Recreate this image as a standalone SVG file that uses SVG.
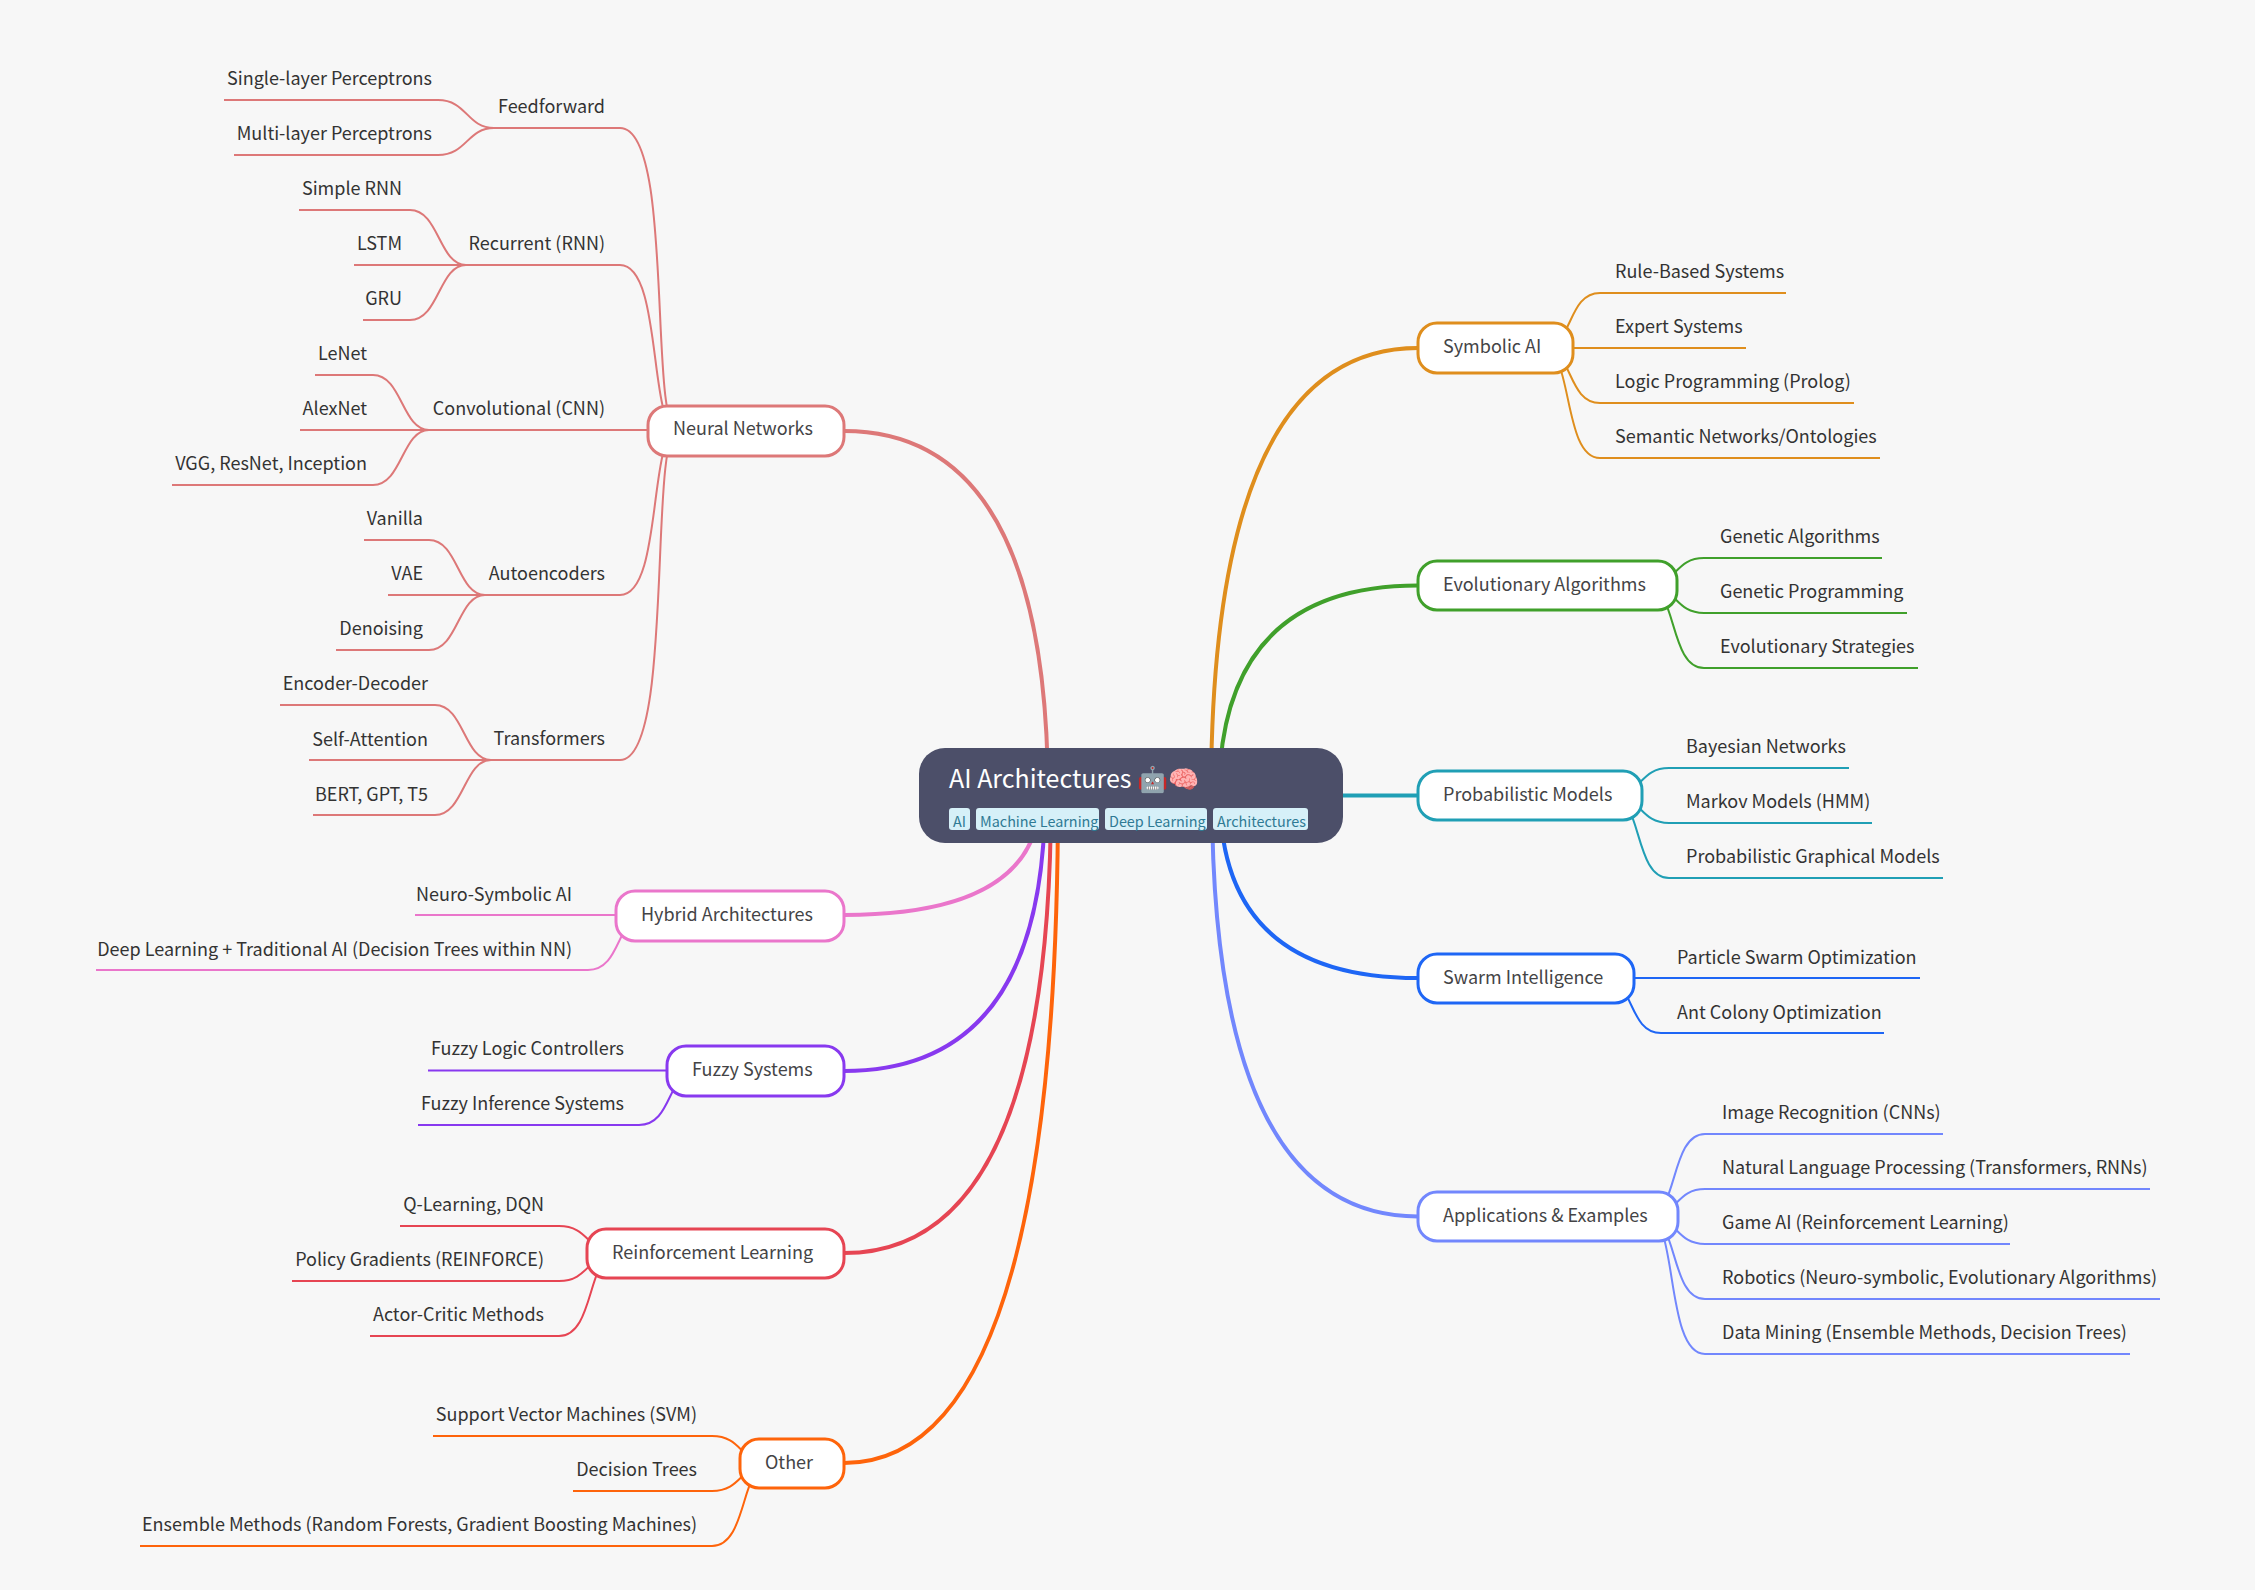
<svg xmlns="http://www.w3.org/2000/svg" width="2255" height="1590" viewBox="0 0 2255 1590">
<style>
text{font-family:"Noto Sans CJK SC","Noto Sans",sans-serif;}
.main{fill:none;stroke-width:4}
.sub{fill:none;stroke-width:2}
.c1{stroke:#dd7878}.c2{stroke:#ea76cb}.c3{stroke:#8839ef}.c4{stroke:#e64553}.c5{stroke:#fe640b}.c6{stroke:#df8e1d}.c7{stroke:#40a02b}.c8{stroke:#209fb5}.c9{stroke:#1e66f5}.c10{stroke:#7287fd}
.box{fill:#fff;stroke-width:3}
.t1{font-size:18px;fill:#444446;transform:translateY(1.4px)}
.t2{font-size:18px;fill:#333;transform:translateY(1.4px)}
.e{text-anchor:end}
.tag{fill:#d6f0f8}
.tagt{font-size:14.4px;fill:#2f7a94;transform:translateY(.7px)}
</style>
<rect width="2255" height="1590" fill="#f7f7f7"/>
<g id="connectors">
<path class="main c1" d="M1048 795.5Q1048 431 844 431"/>
<path class="main c2" d="M1040 795.5Q1040 915 844 915"/>
<path class="main c3" d="M1045 795.5Q1045 1071 844 1071"/>
<path class="main c4" d="M1051 795.5Q1051 1253 844 1253"/>
<path class="main c5" d="M1058 795.5Q1058 1463 844 1463"/>
<path class="main c6" d="M1211 795.5Q1211 348 1418 348"/>
<path class="main c7" d="M1219 795.5Q1219 585.5 1418 585.5"/>
<path class="main c8" d="M1131 795.5H1418"/>
<path class="main c9" d="M1220 795.5Q1220 978 1418 978"/>
<path class="main c10" d="M1212 795.5Q1212 1216.5 1418 1216.5"/>
<g class="c1">
<path class="sub c1" d="M678 430.5C648 430.5 675 128 620 128H494"/>
<path class="sub c1" d="M678 430.5C648 430.5 663 265 620 265H466"/>
<path class="sub c1" d="M678 430H429"/>
<path class="sub c1" d="M678 430.5C648 430.5 663 595 620 595H485"/>
<path class="sub c1" d="M678 430.5C648 430.5 675 760 620 760H491"/>
<path class="sub c1" d="M494 128C467 128 467 100 438 100H224"/>
<path class="sub c1" d="M494 128C467 128 467 155 438 155H234"/>
<path class="sub c1" d="M466 265C439 265 439 210 410 210H299"/>
<path class="sub c1" d="M466 265H354"/>
<path class="sub c1" d="M466 265C439 265 439 320 410 320H363"/>
<path class="sub c1" d="M429 430C402 430 402 375 373 375H315"/>
<path class="sub c1" d="M429 430H300"/>
<path class="sub c1" d="M429 430C402 430 402 485 373 485H172"/>
<path class="sub c1" d="M485 595C458 595 458 540 429 540H364"/>
<path class="sub c1" d="M485 595H388"/>
<path class="sub c1" d="M485 595C458 595 458 650 429 650H336"/>
<path class="sub c1" d="M491 760C464 760 464 705 435 705H280"/>
<path class="sub c1" d="M491 760H309"/>
<path class="sub c1" d="M491 760C464 760 464 815 435 815H313"/>
</g>
<path class="sub c2" d="M646 915H415"/>
<path class="sub c2" d="M646 915C616 915 622 970 588 970H96"/>
<path class="sub c3" d="M697 1070.5H428"/>
<path class="sub c3" d="M697 1070.5C667 1070.5 673 1125 639 1125H418"/>
<path class="sub c4" d="M617 1253C587 1253 590 1226 559 1226H400"/>
<path class="sub c4" d="M617 1253C587 1253 590 1281 559 1281H292"/>
<path class="sub c4" d="M617 1253C587 1253 595 1336 559 1336H370"/>
<path class="sub c5" d="M770 1463.5C740 1463.5 743 1436 712 1436H433"/>
<path class="sub c5" d="M770 1463.5C740 1463.5 743 1491 712 1491H573"/>
<path class="sub c5" d="M770 1463.5C740 1463.5 748 1546 712 1546H140"/>
<path class="sub c6" d="M1543 348C1573 348 1567 293 1600 293H1786"/>
<path class="sub c6" d="M1543 348H1746"/>
<path class="sub c6" d="M1543 348C1573 348 1567 403 1600 403H1854"/>
<path class="sub c6" d="M1543 348C1573 348 1562.500 458 1600 458H1880"/>
<path class="sub c7" d="M1647 585.5C1677 585.5 1674 558 1704 558H1882"/>
<path class="sub c7" d="M1647 585.5C1677 585.5 1674 613 1704 613H1907"/>
<path class="sub c7" d="M1647 585.5C1677 585.5 1669 668 1704 668H1918"/>
<path class="sub c8" d="M1612 795.5C1642 795.5 1639 768 1669 768H1849"/>
<path class="sub c8" d="M1612 795.5C1642 795.5 1639 823 1669 823H1872"/>
<path class="sub c8" d="M1612 795.5C1642 795.5 1634 878 1669 878H1943"/>
<path class="sub c9" d="M1604 978H1920"/>
<path class="sub c9" d="M1604 978C1634 978 1628 1033 1661 1033H1884"/>
<path class="sub c10" d="M1648 1216.5C1678 1216.5 1670 1134 1705 1134H1943"/>
<path class="sub c10" d="M1648 1216.5C1678 1216.5 1675 1189 1705 1189H2150"/>
<path class="sub c10" d="M1648 1216.5C1678 1216.5 1675 1244 1705 1244H2010"/>
<path class="sub c10" d="M1648 1216.5C1678 1216.5 1670 1299 1705 1299H2160"/>
<path class="sub c10" d="M1648 1216.5C1678 1216.5 1665 1354 1705 1354H2130"/>
</g>
<g id="root">
<rect x="919" y="748" width="424" height="95" rx="26" fill="#4c4f69"/>
<text x="949" y="788" font-size="25" fill="#fff">AI Architectures 🤖🧠</text>
<rect class="tag" x="949" y="808" width="21" height="22" rx="3"/>
<text class="tagt" x="953" y="826">AI</text>
<rect class="tag" x="976" y="808" width="123" height="22" rx="3"/>
<text class="tagt" x="980" y="826">Machine Learning</text>
<rect class="tag" x="1105" y="808" width="102" height="22" rx="3"/>
<text class="tagt" x="1109" y="826">Deep Learning</text>
<rect class="tag" x="1213" y="808" width="95" height="22" rx="3"/>
<text class="tagt" x="1217" y="826">Architectures</text>
</g>
<g id="n-neural"><rect class="box c1" x="648" y="406" width="196" height="50" rx="19"/><text class="t1" x="673" y="434">Neural Networks</text></g>
<g id="n-hybrid"><rect class="box c2" x="616" y="891" width="228" height="50" rx="19"/><text class="t1" x="641" y="920">Hybrid Architectures</text></g>
<g id="n-fuzzy"><rect class="box c3" x="667" y="1046" width="177" height="50" rx="19"/><text class="t1" x="692" y="1075">Fuzzy Systems</text></g>
<g id="n-rl"><rect class="box c4" x="587" y="1229" width="257" height="49" rx="19"/><text class="t1" x="612" y="1258">Reinforcement Learning</text></g>
<g id="n-other"><rect class="box c5" x="740" y="1439" width="104" height="49" rx="19"/><text class="t1" x="765" y="1468">Other</text></g>
<g id="n-symbolic"><rect class="box c6" x="1418" y="323" width="155" height="50" rx="19"/><text class="t1" x="1443" y="352">Symbolic AI</text></g>
<g id="n-evo"><rect class="box c7" x="1418" y="561" width="259" height="49" rx="19"/><text class="t1" x="1443" y="590">Evolutionary Algorithms</text></g>
<g id="n-prob"><rect class="box c8" x="1418" y="771" width="224" height="49" rx="19"/><text class="t1" x="1443" y="800">Probabilistic Models</text></g>
<g id="n-swarm"><rect class="box c9" x="1418" y="954" width="216" height="49" rx="19"/><text class="t1" x="1443" y="983">Swarm Intelligence</text></g>
<g id="n-apps"><rect class="box c10" x="1418" y="1192" width="260" height="49" rx="19"/><text class="t1" x="1443" y="1221">Applications &amp; Examples</text></g>
<g id="leaves-neural">
<g id="l-ff"><text class="t2 e" x="605" y="112">Feedforward</text></g>
<g id="l-rnn"><text class="t2 e" x="605" y="249">Recurrent (RNN)</text></g>
<g id="l-cnn"><text class="t2 e" x="605" y="414">Convolutional (CNN)</text></g>
<g id="l-ae"><text class="t2 e" x="605" y="579">Autoencoders</text></g>
<g id="l-tr"><text class="t2 e" x="605" y="744">Transformers</text></g>
<g id="l-single"><text class="t2 e" x="432" y="84">Single-layer Perceptrons</text></g>
<g id="l-multi"><text class="t2 e" x="432" y="139">Multi-layer Perceptrons</text></g>
<g id="l-srnn"><text class="t2 e" x="402" y="194">Simple RNN</text></g>
<g id="l-lstm"><text class="t2 e" x="402" y="249">LSTM</text></g>
<g id="l-gru"><text class="t2 e" x="402" y="304">GRU</text></g>
<g id="l-lenet"><text class="t2 e" x="367" y="359">LeNet</text></g>
<g id="l-alex"><text class="t2 e" x="367" y="414">AlexNet</text></g>
<g id="l-vgg"><text class="t2 e" x="367" y="469">VGG, ResNet, Inception</text></g>
<g id="l-van"><text class="t2 e" x="423" y="524">Vanilla</text></g>
<g id="l-vae"><text class="t2 e" x="423" y="579">VAE</text></g>
<g id="l-den"><text class="t2 e" x="423" y="634">Denoising</text></g>
<g id="l-enc"><text class="t2 e" x="428" y="689">Encoder-Decoder</text></g>
<g id="l-self"><text class="t2 e" x="428" y="745">Self-Attention</text></g>
<g id="l-bert"><text class="t2 e" x="428" y="800">BERT, GPT, T5</text></g>
</g>
<g id="leaves-left">
<g id="l-neuro"><text class="t2 e" x="572" y="900">Neuro-Symbolic AI</text></g>
<g id="l-deep"><text class="t2 e" x="572" y="955">Deep Learning + Traditional AI (Decision Trees within NN)</text></g>
<g id="l-flc"><text class="t2 e" x="624" y="1054">Fuzzy Logic Controllers</text></g>
<g id="l-fis"><text class="t2 e" x="624" y="1109">Fuzzy Inference Systems</text></g>
<g id="l-q"><text class="t2 e" x="544" y="1210">Q-Learning, DQN</text></g>
<g id="l-pg"><text class="t2 e" x="544" y="1265">Policy Gradients (REINFORCE)</text></g>
<g id="l-ac"><text class="t2 e" x="544" y="1320">Actor-Critic Methods</text></g>
<g id="l-svm"><text class="t2 e" x="697" y="1420">Support Vector Machines (SVM)</text></g>
<g id="l-dt"><text class="t2 e" x="697" y="1475">Decision Trees</text></g>
<g id="l-ens"><text class="t2 e" x="697" y="1530">Ensemble Methods (Random Forests, Gradient Boosting Machines)</text></g>
</g>
<g id="leaves-right">
<g id="l-rule"><text class="t2" x="1615" y="277">Rule-Based Systems</text></g>
<g id="l-exp"><text class="t2" x="1615" y="332">Expert Systems</text></g>
<g id="l-logic"><text class="t2" x="1615" y="387">Logic Programming (Prolog)</text></g>
<g id="l-sem"><text class="t2" x="1615" y="442">Semantic Networks/Ontologies</text></g>
<g id="l-ga"><text class="t2" x="1720" y="542">Genetic Algorithms</text></g>
<g id="l-gp"><text class="t2" x="1720" y="597">Genetic Programming</text></g>
<g id="l-es"><text class="t2" x="1720" y="652">Evolutionary Strategies</text></g>
<g id="l-bn"><text class="t2" x="1686" y="752">Bayesian Networks</text></g>
<g id="l-mm"><text class="t2" x="1686" y="807">Markov Models (HMM)</text></g>
<g id="l-pgm"><text class="t2" x="1686" y="862">Probabilistic Graphical Models</text></g>
<g id="l-pso"><text class="t2" x="1677" y="963">Particle Swarm Optimization</text></g>
<g id="l-aco"><text class="t2" x="1677" y="1018">Ant Colony Optimization</text></g>
<g id="l-img"><text class="t2" x="1722" y="1118">Image Recognition (CNNs)</text></g>
<g id="l-nlp"><text class="t2" x="1722" y="1173">Natural Language Processing (Transformers, RNNs)</text></g>
<g id="l-game"><text class="t2" x="1722" y="1228">Game AI (Reinforcement Learning)</text></g>
<g id="l-rob"><text class="t2" x="1722" y="1283">Robotics (Neuro-symbolic, Evolutionary Algorithms)</text></g>
<g id="l-dm"><text class="t2" x="1722" y="1338">Data Mining (Ensemble Methods, Decision Trees)</text></g>
</g>
</svg>
